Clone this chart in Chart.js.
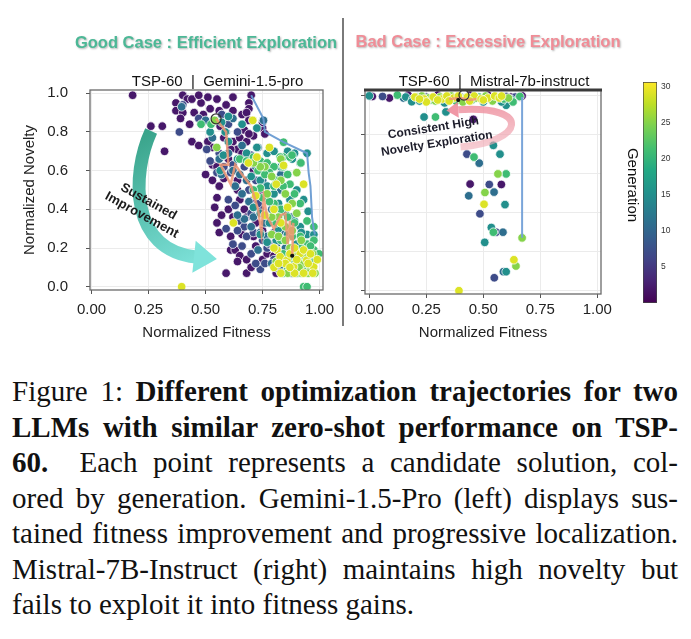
<!DOCTYPE html>
<html><head><meta charset="utf-8">
<script src="https://cdn.jsdelivr.net/npm/chart.js@4.4.1/dist/chart.umd.min.js"></script>
<style>
html,body{margin:0;padding:0;background:#fff;width:691px;height:639px;overflow:hidden;}
#wrap{position:relative;width:691px;height:639px;}
canvas{position:absolute;top:0;}
.ttl{position:absolute;font-family:'Liberation Sans',Arial,sans-serif;font-weight:bold;font-size:16.5px;line-height:19px;white-space:nowrap;transform:translateX(-50%);text-shadow:1px 1px 2px rgba(0,0,0,0.3);}
#divider{position:absolute;left:342px;top:18px;width:2px;height:308px;background:#7a7a7a;}
#cap{position:absolute;left:12px;top:374px;width:666px;font-family:'Liberation Serif','Times New Roman',serif;font-size:29px;line-height:35.5px;color:#111;}
#cap div{text-align:justify;text-align-last:justify;}
#cap div.last{text-align:left;text-align-last:left;}
</style>
</head><body>
<div id="wrap">
  <canvas id="cL" width="343" height="350" style="left:0px"></canvas>
  <canvas id="cR" width="277" height="350" style="left:343px"></canvas>
  <canvas id="cB" width="71" height="350" style="left:620px"></canvas>
  <div id="divider"></div>
  <div class="ttl" style="left:206px;top:33px;color:#4cb896">Good Case : Efficient Exploration</div>
  <div class="ttl" style="left:488px;top:32px;color:#f08d97">Bad Case : Excessive Exploration</div>
  <div id="cap">
    <div>Figure 1: <b>Different optimization trajectories for two</b></div>
    <div><b>LLMs with similar zero-shot performance on TSP-</b></div>
    <div><b>60.</b>&nbsp; Each point represents a candidate solution, col-</div>
    <div>ored by generation. Gemini-1.5-Pro (left) displays sus-</div>
    <div>tained fitness improvement and progressive localization.</div>
    <div>Mistral-7B-Instruct (right) maintains high novelty but</div>
    <div class="last">fails to exploit it into fitness gains.</div>
  </div>
</div>
<script>
// ---------------- DATA ----------------
const fitTicks = [0, 0.25, 0.5, 0.75, 1.0];
const noveltyTicks = [0, 0.2, 0.4, 0.6, 0.8, 1.0];
const genTicks = [5, 10, 15, 20, 25, 30];
const colorbarRange = [0, 30.6];
const leftSubtitle = 'TSP-60  |  Gemini-1.5-pro';
const rightSubtitle = 'TSP-60  |  Mistral-7b-instruct';
const xTitle = 'Normalized Fitness';
const yTitle = 'Normalized Novelty';
const cbTitle = 'Generation';

// Gemini-1.5-pro candidates, grouped by generation
const gemGen2 = [[0.18,0.99],[0.26,0.83],[0.31,0.83],[0.32,0.70],[0.37,0.95],[0.37,0.91],[0.40,0.99],[0.42,0.97],[0.44,0.97],[0.48,0.95],[0.51,0.98],[0.55,0.97],[0.62,0.98],[0.70,0.99],[0.69,0.95],[0.69,0.92],[0.40,0.90],[0.45,0.90],[0.39,0.87],[0.43,0.84],[0.48,0.86],[0.49,0.89],[0.56,0.91],[0.57,0.89],[0.62,0.91],[0.66,0.89],[0.68,0.90],[0.69,0.86],[0.75,0.82],[0.75,0.85],[0.76,0.79],[0.71,0.78],[0.44,0.75],[0.47,0.73],[0.53,0.72],[0.50,0.58],[0.51,0.75],[0.58,0.77],[0.62,0.75],[0.65,0.77],[0.68,0.75],[0.67,0.81],[0.69,0.79],[0.64,0.71],[0.66,0.69],[0.53,0.63],[0.54,0.41],[0.55,0.46],[0.56,0.52],[0.64,0.55],[0.64,0.50],[0.65,0.45],[0.67,0.40],[0.61,0.19],[0.63,0.19],[0.65,0.16],[0.68,0.14],[0.68,0.07],[0.59,0.07],[0.55,0.33],[0.56,0.28],[0.61,0.26],[0.62,0.36],[0.71,0.26],[0.72,0.21],[0.75,0.14],[0.81,0.07],[0.68,0.36],[0.71,0.45],[0.74,0.48],[0.75,0.29],[0.77,0.17],[0.60,0.66],[0.58,0.56],[0.61,0.71],[0.71,0.60],[0.52,0.92],[0.58,0.84],[0.53,0.55],[0.57,0.37],[0.60,0.40],[0.66,0.27],[0.70,0.10],[0.64,0.13],[0.80,0.16],[0.72,0.33],[0.47,0.99],[0.59,0.94],[0.564,0.83],[0.55,0.62]];
const gemGen7 = [[0.40,0.94],[0.47,0.87],[0.505,0.71],[0.52,0.65],[0.55,0.59],[0.58,0.62],[0.61,0.59],[0.62,0.63],[0.67,0.62],[0.65,0.34],[0.67,0.31],[0.68,0.26],[0.71,0.28],[0.75,0.24],[0.77,0.20],[0.80,0.14],[0.83,0.17],[0.74,0.40],[0.77,0.34],[0.80,0.28],[0.60,0.45],[0.63,0.42],[0.69,0.50],[0.72,0.55],[0.66,0.21],[0.70,0.17],[0.74,0.09],[0.78,0.22],[0.82,0.09],[0.62,0.22],[0.59,0.30],[0.64,0.29],[0.72,0.12],[0.56,0.69],[0.60,0.84],[0.64,0.80],[0.70,0.68],[0.571,0.89],[0.385,0.80],[0.73,0.43],[0.76,0.12],[0.70,0.38]];
const gemGen11 = [[0.395,0.93],[0.52,0.80],[0.53,0.77],[0.59,0.80],[0.50,0.86],[0.56,0.66],[0.58,0.68],[0.60,0.69],[0.62,0.60],[0.65,0.58],[0.68,0.55],[0.63,0.52],[0.66,0.48],[0.71,0.41],[0.67,0.35],[0.71,0.36],[0.74,0.28],[0.77,0.26],[0.81,0.21],[0.79,0.40],[0.83,0.50],[0.85,0.28],[0.88,0.36],[0.75,0.55],[0.72,0.62],[0.79,0.62],[0.83,0.58],[0.86,0.14],[0.84,0.10],[0.88,0.07],[0.92,0.10],[0.69,0.44],[0.64,0.37],[0.76,0.33],[0.73,0.19],[0.79,0.12],[0.85,0.20],[0.62,0.87],[0.66,0.73],[0.73,0.72],[0.70,0.31],[0.754,0.86],[0.57,0.58]];
const gemGen15 = [[0.60,0.88],[0.725,0.82],[0.725,0.72],[0.77,0.69],[0.80,0.70],[0.86,0.70],[0.89,0.69],[0.945,0.69],[0.915,0.64],[0.83,0.62],[0.74,0.55],[0.77,0.52],[0.80,0.48],[0.71,0.41],[0.74,0.38],[0.78,0.33],[0.74,0.27],[0.77,0.23],[0.81,0.24],[0.86,0.27],[0.89,0.34],[0.915,0.31],[0.945,0.27],[0.975,0.27],[0.84,0.14],[0.87,0.17],[0.90,0.22],[0.93,0.17],[0.96,0.14],[0.82,0.30],[0.87,0.45],[0.90,0.50],[0.93,0.45],[0.95,0.39],[0.68,0.69],[0.64,0.66],[0.70,0.57],[0.76,0.63],[0.82,0.43],[0.85,0.38],[0.92,0.28],[0.94,0.21],[0.57,0.85],[0.60,0.75],[0.66,0.84],[0.52,0.80],[0.586,0.80],[0.578,0.68],[0.564,0.60],[0.88,0.66]];
const gemGen21 = [[0.524,0.84],[0.48,0.84],[0.65,0.66],[0.68,0.65],[0.71,0.67],[0.74,0.65],[0.77,0.64],[0.80,0.62],[0.842,0.747],[0.84,0.67],[0.87,0.67],[0.84,0.62],[0.86,0.58],[0.87,0.53],[0.89,0.48],[0.915,0.43],[0.945,0.34],[0.975,0.31],[0.74,0.51],[0.71,0.50],[0.75,0.46],[0.80,0.43],[0.83,0.40],[0.86,0.36],[0.81,0.33],[0.89,0.33],[0.915,0.26],[0.945,0.22],[0.975,0.19],[0.997,0.17],[0.975,0.24],[0.84,0.17],[0.87,0.14],[0.915,0.14],[0.945,0.10],[0.90,0.07],[0.93,0.0],[0.945,0.0],[0.84,0.07],[0.78,0.59],[0.81,0.55],[0.84,0.52],[0.78,0.44],[0.88,0.26],[0.92,0.20],[0.96,0.21],[0.86,0.10],[0.89,0.12],[0.95,0.17],[0.73,0.60],[0.76,0.58],[0.80,0.52],[0.918,0.64],[0.83,0.24],[0.98,0.14],[0.879,0.68],[0.827,0.67]];
const gemGen25 = [[0.549,0.72],[0.76,0.62],[0.79,0.57],[0.83,0.55],[0.85,0.48],[0.88,0.43],[0.82,0.36],[0.85,0.31],[0.88,0.29],[0.90,0.38],[0.79,0.27],[0.82,0.26],[0.85,0.24],[0.87,0.20],[0.90,0.17],[0.93,0.12],[0.96,0.10],[0.81,0.13],[0.86,0.07],[0.92,0.07],[0.98,0.07],[0.74,0.62],[0.71,0.64],[0.83,0.66],[0.79,0.36],[0.92,0.24],[0.94,0.15],[0.88,0.10],[0.91,0.10],[0.97,0.17],[0.95,0.07],[0.54,0.86],[0.77,0.48],[0.90,0.59]];
const gemGen29 = [[0.707,0.86],[0.78,0.72],[0.725,0.67],[0.688,0.64],[0.622,0.33],[0.395,0.0],[0.93,0.53],[0.813,0.19],[0.827,0.155],[0.857,0.137],[0.886,0.103],[0.915,0.172],[0.944,0.137],[0.974,0.103],[0.80,0.40],[0.83,0.33],[0.86,0.41],[0.76,0.37],[0.80,0.10],[0.83,0.07],[0.87,0.17],[0.90,0.14],[0.93,0.19],[0.96,0.17],[0.99,0.14],[0.89,0.07],[0.95,0.12],[0.85,0.12],[0.72,0.47],[0.81,0.53],[0.82,0.12],[0.87,0.10],[0.93,0.07],[0.97,0.07],[0.842,0.627],[0.80,0.20],[0.89,0.20]];
const gemPareto = [[0.70,0.99],[0.754,0.868],[0.76,0.80],[0.842,0.747],[0.945,0.69],[0.952,0.59],[0.96,0.52],[0.967,0.36],[0.974,0.30],[0.98,0.27]];
const gemTrajectory = [[0.546,0.868],[0.59,0.80],[0.595,0.72],[0.60,0.63],[0.565,0.63],[0.61,0.53],[0.63,0.63],[0.66,0.58],[0.70,0.52],[0.73,0.40],[0.745,0.28],[0.755,0.46],[0.77,0.36],[0.80,0.30],[0.83,0.37],[0.85,0.38],[0.86,0.22],[0.87,0.34],[0.875,0.24],[0.885,0.33],[0.88,0.16]];

// Mistral-7b-instruct candidates, grouped by generation
const misGen2 = [[0.013,0.993],[0.088,0.985],[0.17,1.0],[0.44,1.0],[0.62,0.99],[0.66,0.99],[0.67,0.996],[0.456,0.876],[0.442,0.545],[0.579,0.543],[0.30,1.0],[0.52,1.0]];
const misGen7 = [[0.058,0.993],[0.428,0.698],[0.526,0.543],[0.485,0.393],[0.556,0.299],[0.548,0.066],[0.60,0.993],[0.25,0.99],[0.64,0.99]];
const misGen11 = [[0.482,0.652],[0.547,0.504],[0.436,0.485],[0.586,0.299],[0.588,0.097],[0.15,0.985],[0.40,0.99],[0.55,0.985]];
const misGen15 = [[0.0,0.996],[0.16,0.99],[0.19,0.98],[0.186,0.966],[0.624,0.976],[0.60,0.948],[0.24,0.888],[0.336,0.914],[0.544,0.743],[0.573,0.698],[0.595,0.44],[0.535,0.323],[0.506,0.247],[0.60,0.097],[0.22,0.97],[0.33,0.96],[0.50,0.965],[0.58,0.965]];
const misGen21 = [[0.123,1.0],[0.29,0.888],[0.459,0.683],[0.60,0.597],[0.544,0.299],[0.66,0.993],[0.21,0.99],[0.27,0.975],[0.35,0.985],[0.45,0.975],[0.53,0.98],[0.59,0.98],[0.63,0.965],[0.38,0.97],[0.48,0.99]];
const misGen25 = [[0.564,0.597],[0.507,0.502],[0.643,0.126],[0.67,0.27],[0.23,0.995],[0.26,0.985],[0.31,0.99],[0.36,0.995],[0.42,0.985],[0.47,0.985],[0.51,0.995],[0.56,0.99],[0.61,0.985],[0.29,0.97],[0.41,0.965],[0.54,0.97]];
const misGen29 = [[0.503,0.442],[0.634,0.158],[0.393,0.0],[0.20,0.99],[0.24,0.98],[0.28,0.99],[0.32,0.98],[0.34,0.995],[0.37,0.985],[0.39,0.995],[0.43,0.99],[0.46,0.995],[0.49,0.98],[0.52,0.985],[0.55,0.995],[0.57,0.985],[0.25,0.965],[0.30,0.975],[0.35,0.97],[0.44,0.97],[0.50,0.975],[0.22,0.98],[0.58,0.995]];
const misPareto = [[0.67,0.99],[0.67,0.27]];
const misTrajectory = [[0.35,0.98],[0.40,0.985],[0.44,0.975],[0.47,0.98]];
const misTrajStart = [[0.415,1.0]];
const misTrajEnd = [[0.39,0.975]];

const gemGroups = [[gemGen2,2],[gemGen7,7],[gemGen11,11],[gemGen15,15],[gemGen21,21],[gemGen25,25],[gemGen29,29]];
const misGroups = [[misGen2,2],[misGen7,7],[misGen11,11],[misGen15,15],[misGen21,21],[misGen25,25],[misGen29,29]];

// --------------- STYLE / HELPERS ---------------
const FONT = "'Liberation Sans', 'Helvetica Neue', Arial, sans-serif";
Chart.defaults.font.family = FONT;
Chart.defaults.color = '#222';
const VIR = ['#440154','#482475','#414487','#355f8d','#2a788e','#21918c','#22a884','#44bf70','#7ad151','#bddf26','#fde725'];
function hex(c){return [parseInt(c.slice(1,3),16),parseInt(c.slice(3,5),16),parseInt(c.slice(5,7),16)];}
function viridis(t){
  t=Math.max(0,Math.min(1,t)); const p=t*10; const i=Math.min(9,Math.floor(p)); const f=p-i;
  const a=hex(VIR[i]), b=hex(VIR[i+1]);
  return 'rgb('+a.map((v,k)=>Math.round(v+(b[k]-v)*f)).join(',')+')';
}
const toXY = arr => arr.map(p=>({x:p[0], y:p[1]}));
function pointSet(points, gen){
  return {data: toXY(points), backgroundColor: viridis(gen/colorbarRange[1]), borderColor:'rgba(255,255,255,0.95)',
    borderWidth:0.8, pointRadius:4.3, pointHoverRadius:4.3, order: 100-gen};
}
function lineSet(points, color, width){
  return {data: toXY(points), showLine:true, borderColor:color, borderWidth:width, pointRadius:0, fill:false, tension:0, order:-1};
}
function markerSet(points, fill, stroke, r){
  return {data: toXY(points), backgroundColor:fill, borderColor:stroke, borderWidth:1.2, pointRadius:r, order:-2};
}
function setTicks(values){ return s => { s.ticks = values.map(v=>({value:v})); }; }

const framePlugin = (color, width, topColor, topWidth) => ({
  id:'frame',
  afterDatasetsDraw(chart){
    const {ctx, chartArea:a} = chart;
    ctx.save(); ctx.strokeStyle=color; ctx.lineWidth=width;
    ctx.strokeRect(a.left, a.top, a.right-a.left, a.bottom-a.top);
    if (topWidth){ ctx.strokeStyle=topColor; ctx.lineWidth=topWidth; ctx.beginPath(); ctx.moveTo(a.left-1,a.top); ctx.lineTo(a.right+1,a.top); ctx.stroke(); }
    ctx.restore();
  }
});
const subtitlePlugin = (text) => ({
  id:'subtitle',
  afterDraw(chart){
    const {ctx, chartArea:a} = chart;
    ctx.save(); ctx.font='15px '+FONT; ctx.fillStyle='#111'; ctx.textAlign='center'; ctx.textBaseline='middle';
    ctx.fillText(text, (a.left+a.right)/2+11, 81.5); ctx.restore();
  }
});
function P(chart, p){ return [chart.scales.x.getPixelForValue(p[0]), chart.scales.y.getPixelForValue(p[1])]; }
function rotText(ctx, text, x, y, deg){
  ctx.save(); ctx.translate(x,y); ctx.rotate(deg*Math.PI/180); ctx.fillText(text,0,0); ctx.restore();
}

// annotation geometry (data coordinates of each panel)
const sustainedArrow = {curve:[[0.261,0.805],[0.173,0.578],[0.168,0.19],[0.458,0.154]], labels:[['Sustained',0.25,0.44],['Improvement',0.22,0.37]]};
const noveltyArrow = {curve:[[0.40,0.735],[0.68,0.76],[0.72,0.95],[0.39,0.925]], labels:[['Consistent High',0.281,0.831],['Novelty Exploration',0.296,0.752]]};

const leftAnnot = {
  id:'leftAnnot',
  afterDatasetsDraw(chart){
    const ctx=chart.ctx; const c=sustainedArrow.curve.map(p=>P(chart,p));
    ctx.save();
    const g=ctx.createLinearGradient(c[0][0],c[0][1],c[3][0]+20,c[3][1]);
    g.addColorStop(0,'#3aa48b'); g.addColorStop(1,'#7fe3db');
    ctx.strokeStyle=g; ctx.lineWidth=13; ctx.lineCap='butt';
    ctx.beginPath(); ctx.moveTo(c[0][0],c[0][1]); ctx.bezierCurveTo(c[1][0],c[1][1],c[2][0],c[2][1],c[3][0],c[3][1]); ctx.stroke();
    const dx=c[3][0]-c[2][0], dy=c[3][1]-c[2][1], L=Math.hypot(dx,dy), ux=dx/L, uy=dy/L, nx=-uy, ny=ux;
    ctx.fillStyle='#7fe3db';
    ctx.beginPath();
    ctx.moveTo(c[3][0]-ux*2+nx*16, c[3][1]-uy*2+ny*16);
    ctx.lineTo(c[3][0]+ux*21, c[3][1]+uy*21);
    ctx.lineTo(c[3][0]-ux*2-nx*16, c[3][1]-uy*2-ny*16);
    ctx.closePath(); ctx.fill();
    ctx.font='bold 13px '+FONT; ctx.fillStyle='#1b1b1b'; ctx.textAlign='center'; ctx.textBaseline='middle';
    sustainedArrow.labels.forEach(l=>{ const q=P(chart,[l[1],l[2]]); rotText(ctx,l[0],q[0],q[1],29); });
    ctx.restore();
  }
};
const rightAnnot = {
  id:'rightAnnot',
  afterDatasetsDraw(chart){
    const ctx=chart.ctx; const c=noveltyArrow.curve.map(p=>P(chart,p));
    ctx.save();
    const g=ctx.createLinearGradient(c[0][0],c[0][1]+10,c[3][0],c[3][1]-10);
    g.addColorStop(0,'rgba(240,175,185,0.55)'); g.addColorStop(1,'rgba(238,140,155,0.9)');
    ctx.strokeStyle=g; ctx.lineWidth=7; ctx.lineCap='butt';
    ctx.beginPath(); ctx.moveTo(c[0][0],c[0][1]); ctx.bezierCurveTo(c[1][0],c[1][1],c[2][0],c[2][1],c[3][0],c[3][1]); ctx.stroke();
    const dx=c[3][0]-c[2][0], dy=c[3][1]-c[2][1], L=Math.hypot(dx,dy), ux=dx/L, uy=dy/L, nx=-uy, ny=ux;
    ctx.fillStyle='rgba(238,140,155,0.9)';
    ctx.beginPath();
    ctx.moveTo(c[3][0]+nx*8, c[3][1]+ny*8);
    ctx.lineTo(c[3][0]+ux*12, c[3][1]+uy*12);
    ctx.lineTo(c[3][0]-nx*8, c[3][1]-ny*8);
    ctx.closePath(); ctx.fill();
    ctx.font='bold 12px '+FONT; ctx.fillStyle='#1c1c2a'; ctx.textAlign='center'; ctx.textBaseline='middle';
    noveltyArrow.labels.forEach(l=>{ const q=P(chart,[l[1],l[2]]); rotText(ctx,l[0],q[0],q[1],-9); });
    ctx.restore();
  }
};

function scatterOptions(xr, yr, yWidth, xHeight, padRight, showYLabels, tickPadX){
  return {
    responsive:false, animation:false, events:[],
    layout:{padding:{top:90,right:padRight,left:0,bottom:0}},
    plugins:{legend:{display:false}, tooltip:{enabled:false}},
    scales:{
      x:{type:'linear', min:xr[0], max:xr[1], afterBuildTicks:setTicks(fitTicks), afterFit:s=>{s.height=xHeight;},
         grid:{color:'#ebebeb', tickColor:'#555', tickLength:4, lineWidth:1}, border:{display:false},
         ticks:{font:{size:15}, color:'#222', padding:tickPadX, maxRotation:0, callback:v=>Number(v).toFixed(2)},
         title:{display:true, text:xTitle, font:{size:15}, color:'#222', padding:{top:0,bottom:7.7}}},
      y:{type:'linear', min:yr[0], max:yr[1], afterBuildTicks:setTicks(noveltyTicks), afterFit:s=>{s.width=yWidth;},
         grid:{color:'#ebebeb', tickColor:'#555', tickLength:4, lineWidth:1}, border:{display:false},
         ticks:{font:{size:15}, color:'#222', padding:18, callback:v=> showYLabels ? Number(v).toFixed(1) : ''},
         title:{display:showYLabels, text:yTitle, font:{size:15}, color:'#222', padding:{top:20.5,bottom:0}}}
    }
  };
}

// ---------------- LEFT PANEL ----------------
const leftDatasets = gemGroups.map(g=>pointSet(g[0],g[1]));
leftDatasets.push(lineSet(gemPareto,'rgba(105,155,210,0.95)',2));
leftDatasets.push(lineSet(gemTrajectory,'rgba(240,150,115,0.85)',2.5));
leftDatasets.push(markerSet([gemTrajectory[0]],'rgba(0,0,0,0)','#333',5));
leftDatasets.push(markerSet([gemTrajectory[gemTrajectory.length-1]],'#111','#111',1.5));
new Chart(document.getElementById('cL'), {
  type:'scatter', data:{datasets:leftDatasets},
  options:scatterOptions([-0.007,1.015],[-0.017,1.017],90,60,20,true,7),
  plugins:[framePlugin('#6a6a6a',1.3,null,0), leftAnnot, subtitlePlugin(leftSubtitle)]
});

// ---------------- RIGHT PANEL ----------------
const rightDatasets = misGroups.map(g=>pointSet(g[0],g[1]));
rightDatasets.push(lineSet(misPareto,'rgba(115,160,215,0.95)',2));
rightDatasets.push(lineSet(misTrajectory,'rgba(240,150,115,0.85)',2.5));
rightDatasets.push(markerSet(misTrajStart,'rgba(0,0,0,0)','#333',5));
rightDatasets.push(markerSet(misTrajEnd,'#111','#111',1.5));
new Chart(document.getElementById('cR'), {
  type:'scatter', data:{datasets:rightDatasets},
  options:scatterOptions([-0.019,1.016],[-0.017,1.026],22,56,19,false,3),
  plugins:[framePlugin('#6a6a6a',1.3,'#3a3a3a',3), rightAnnot, subtitlePlugin(rightSubtitle)]
});

// ---------------- COLORBAR ----------------
const cbLabel = {
  id:'cbLabel',
  afterDraw(chart){
    const ctx=chart.ctx; ctx.save(); ctx.font='15px '+FONT; ctx.fillStyle='#111'; ctx.textAlign='center'; ctx.textBaseline='middle';
    rotText(ctx, cbTitle, 12, 185, 90); ctx.restore();
  }
};
new Chart(document.getElementById('cB'), {
  type:'bar',
  data:{labels:['gen'], datasets:[{data:[colorbarRange],
    backgroundColor:(c)=>{ const ch=c.chart; if(!ch.chartArea) return VIR[5]; const ys=ch.scales.y;
      const g=ch.ctx.createLinearGradient(0, ys.getPixelForValue(colorbarRange[0]), 0, ys.getPixelForValue(colorbarRange[1]));
      VIR.forEach((col,i)=>g.addColorStop(i/(VIR.length-1), col)); return g; },
    borderColor:'#444', borderWidth:1, borderSkipped:false, barPercentage:1, categoryPercentage:1}]},
  options:{responsive:false, animation:false, events:[],
    layout:{padding:{top:82,bottom:47,left:23,right:0}},
    plugins:{legend:{display:false}, tooltip:{enabled:false}},
    scales:{x:{display:false},
      y:{position:'right', min:colorbarRange[0], max:colorbarRange[1], afterBuildTicks:setTicks(genTicks), afterFit:s=>{s.width=34;},
         grid:{display:false, drawTicks:false}, border:{display:false}, ticks:{font:{size:8.5}, color:'#333', padding:4}}}
  },
  plugins:[cbLabel]
});
</script>
</body></html>
